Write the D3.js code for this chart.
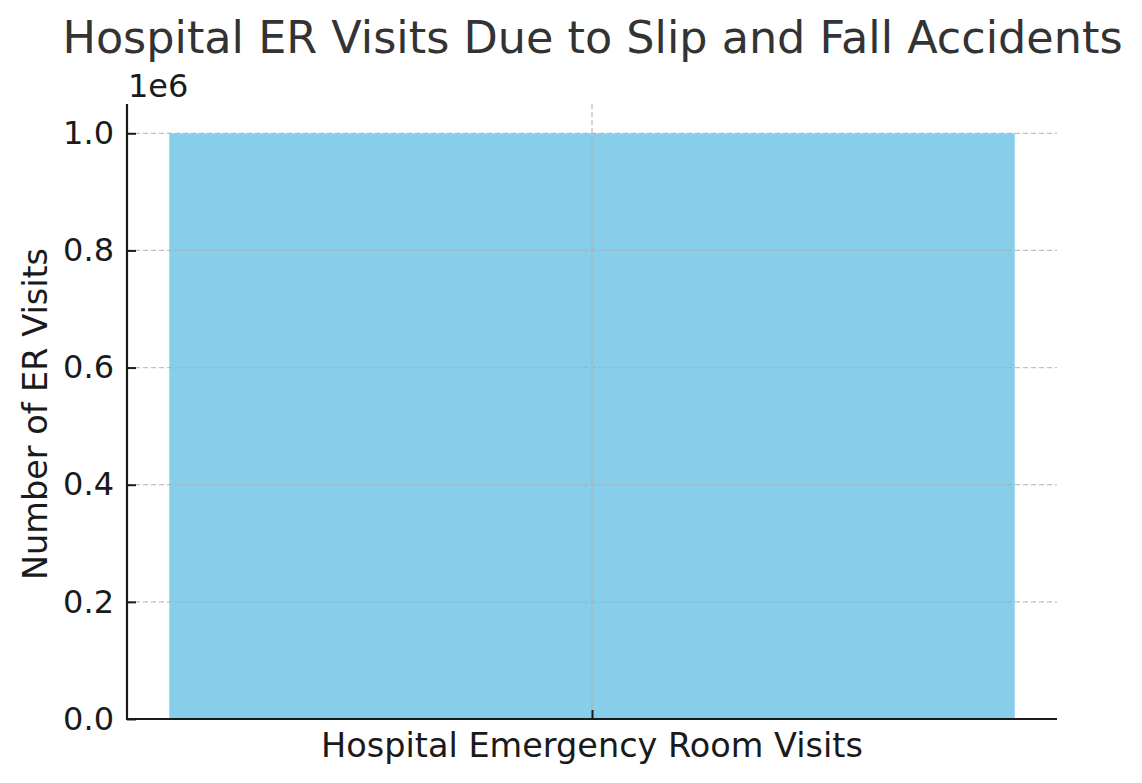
<!DOCTYPE html>
<html><head><meta charset="utf-8">
<script src="https://cdn.jsdelivr.net/npm/d3@7"></script>
<style>body{margin:0;background:#fff}svg{display:block;font-family:"DejaVu Sans",sans-serif}</style>
</head><body>
<script>
const categories = ["Hospital Emergency Room Visits"];
const values = [1000000];
const yTicks = [0, 0.2e6, 0.4e6, 0.6e6, 0.8e6, 1.0e6];
const title = "Hospital ER Visits Due to Slip and Fall Accidents";
const xLabel = "Hospital Emergency Room Visits";
const yLabel = "Number of ER Visits";

const W = 1142, H = 783;
const m = {left:127, right:1057, top:104, bottom:719};
const svg = d3.select("body").append("svg").attr("width", W).attr("height", H);

// matplotlib: bar width 0.8 in xlim [-0.44, 0.44]
const xc = d3.scaleLinear().domain([-0.44, 0.44]).range([m.left, m.right]);
const y = d3.scaleLinear().domain([0, 1.05e6]).range([m.bottom, m.top]);

// bars
svg.selectAll("rect.bar").data(values).enter().append("rect")
  .attr("x", (d,i) => xc(i - 0.4)).attr("width", (d,i) => xc(i + 0.4) - xc(i - 0.4))
  .attr("y", d => y(d)).attr("height", d => y(0) - y(d))
  .attr("fill", "#87ceeb");

// grid
const grid = svg.append("g").attr("stroke", "#b0b0b0").attr("stroke-width", 1.3).attr("stroke-dasharray", "5,3").attr("opacity", 0.8);
yTicks.forEach(t => grid.append("line").attr("x1", m.left).attr("x2", m.right).attr("y1", y(t)).attr("y2", y(t)));
categories.forEach((c,i) => grid.append("line").attr("x1", xc(i)).attr("x2", xc(i)).attr("y1", m.top).attr("y2", m.bottom));

const FS = 32, LS = 33.5;
// axes via d3
const yAxis = d3.axisLeft(y).tickValues(yTicks).tickFormat(d => (d/1e6).toFixed(1)).tickSizeInner(-9).tickSizeOuter(0).tickPadding(13);
const gy = svg.append("g").attr("transform", `translate(${m.left},0)`).call(yAxis);
gy.select(".domain").attr("stroke", "#1a1a1a").attr("stroke-width", 2.2).attr("d", `M0,${m.top}V${m.bottom}`);
gy.selectAll(".tick line").attr("stroke", "#1a1a1a").attr("stroke-width", 2);
gy.selectAll(".tick text").attr("font-size", FS).attr("fill", "#1a1a1a").attr("font-family", "DejaVu Sans");

const xAxis = d3.axisBottom(xc).tickValues(categories.map((c,i)=>i)).tickFormat("").tickSizeInner(-9).tickSizeOuter(0);
const gx = svg.append("g").attr("transform", `translate(0,${m.bottom})`).call(xAxis);
gx.select(".domain").attr("stroke", "#1a1a1a").attr("stroke-width", 2.2).attr("d", `M${m.left-1},0H${m.right}`);
gx.selectAll(".tick line").attr("stroke", "#1a1a1a").attr("stroke-width", 2);

// offset text
svg.append("text").attr("x", 128).attr("y", 97).attr("font-size", FS).attr("fill", "#1a1a1a").text("1e6");

// labels
svg.append("text").attr("x", (m.left+m.right)/2).attr("y", 757).attr("text-anchor", "middle")
  .attr("font-size", LS).attr("fill", "#1a1a1a").text(xLabel);
svg.append("text").attr("transform", `translate(47,414) rotate(-90)`).attr("text-anchor", "middle")
  .attr("font-size", LS).attr("fill", "#1a1a1a").text(yLabel);
svg.append("text").attr("x", 592.5).attr("y", 53).attr("text-anchor", "middle")
  .attr("font-size", 44.5).attr("fill", "#333333").text(title);
</script>
</body></html>
